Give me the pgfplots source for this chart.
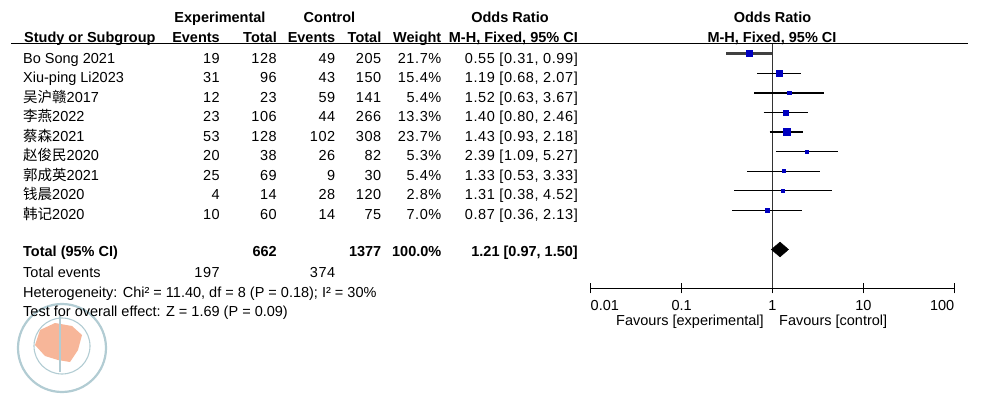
\documentclass[border=0pt]{standalone}
\usepackage{pgfplots}
\pgfplotsset{compat=1.18}
\usepackage{fontspec}
\setmainfont{Liberation Sans}
\newfontfamily\cjk{Noto Sans CJK SC}
\newfontfamily\numf[LetterSpace=4]{Liberation Sans}
\definecolor{mblue}{RGB}{0,0,192}
\definecolor{logoline}{RGB}{178,204,211}
\definecolor{logofill}{RGB}{247,182,153}
\newcommand{\fs}{\fontsize{14.5}{17}\selectfont}
\newcommand{\trow}[8]{%
  \node[anchor=base west] at (23,#1) {#2};
  \node[anchor=base east] at (220,#1) {\numf #3};
  \node[anchor=base east] at (277,#1) {\numf #4};
  \node[anchor=base east] at (335.5,#1) {\numf #5};
  \node[anchor=base east] at (381.5,#1) {\numf #6};
  \node[anchor=base east] at (441.5,#1) {\numf #7};
  \node[anchor=base east] at (578,#1) {\numf #8};
}
\newcommand{\study}[7]{% y, or, lo, hi, half side, line width, line colour
  \addplot[line width=#6, color=#7, mark=none] coordinates {(#3,#1) (#4,#1)};
  \addplot[only marks, mark=square*, mark size=#5, color=mblue] coordinates {(#2,#1)};
}
\begin{document}
\begin{tikzpicture}[every node/.style={font=\fs, inner sep=0pt}]
% watermark logo (decoration)
\begin{scope}[x=1pt,y=-1pt]
  \fill[logofill] (40,330) -- (55,323) -- (72,326) -- (82,335) -- (78,350) -- (70,362) -- (58,360) -- (45,356) -- (35,345) -- cycle;
  \draw[logoline, line width=2.2pt] (62,348) circle (44);
  \draw[logoline, line width=1.1pt] (62,346) circle (28);
  \draw[logoline, line width=1.1pt] (60,316) -- (60,372);
\end{scope}

\begin{axis}[at={(590.7pt,-44pt)}, anchor=north west, scale only axis,
  width=363.6pt, height=244.3pt,
  xmode=log, xmin=0.01, xmax=100, ymin=-0.98, ymax=11.485,
  axis y line=none, axis x line*=bottom, clip=false,
  xtick={0.01,0.1,1,10,100},
  xticklabels={\rlap{0.01},0.1,1,10,\llap{100}},
  xminorticks=false, tick align=center, major tick length=10pt,
  tick style={black, line width=1pt},
  axis line style={black, line width=1pt},
  xticklabel style={font=\fs, inner sep=0pt, anchor=base, yshift=-17.4pt},
]
% line of no effect
\addplot[black!80, line width=1pt, mark=none] coordinates {(1,11.485) (1,-0.98)};
% studies: y, OR, lower, upper, half side of box, CI line width, colour
\study{11}{0.55}{0.31}{0.99}{3.0pt}{2.2pt}{black!75}
\study{10}{1.19}{0.68}{2.07}{3.0pt}{0.9pt}{black}
\study{9}{1.52}{0.63}{3.67}{1.7pt}{2.0pt}{black}
\study{8}{1.40}{0.80}{2.46}{2.6pt}{0.9pt}{black}
\study{7}{1.43}{0.93}{2.18}{3.7pt}{2.0pt}{black}
\study{6}{2.39}{1.09}{5.27}{1.6pt}{0.9pt}{black}
\study{5}{1.33}{0.53}{3.33}{1.6pt}{0.9pt}{black}
\study{4}{1.31}{0.38}{4.52}{1.5pt}{0.9pt}{black}
\study{3}{0.87}{0.36}{2.13}{1.7pt}{0.9pt}{black}
% pooled estimate
\addplot[fill=black, draw=black, mark=none] coordinates {(0.97,1) (1.21,1.38) (1.50,1) (1.21,0.62)} -- cycle;
\end{axis}

\begin{scope}[x=1pt,y=-1pt]
  \draw[black, line width=1pt] (11,44) -- (968,44);
  % headers
  \node[anchor=base, font=\fs\bfseries] at (220,22.7) {Experimental};
  \node[anchor=base, font=\fs\bfseries] at (329.5,22.7) {Control};
  \node[anchor=base, font=\fs\bfseries] at (510,22.7) {Odds Ratio};
  \node[anchor=base, font=\fs\bfseries] at (772.5,22.7) {Odds Ratio};
  \node[anchor=base west, font=\fs\bfseries] at (24,42.7) {Study or Subgroup};
  \node[anchor=base east, font=\fs\bfseries] at (220,42.7) {Events};
  \node[anchor=base east, font=\fs\bfseries] at (277,42.7) {Total};
  \node[anchor=base east, font=\fs\bfseries] at (335.5,42.7) {Events};
  \node[anchor=base east, font=\fs\bfseries] at (381.5,42.7) {Total};
  \node[anchor=base east, font=\fs\bfseries] at (441.5,42.7) {Weight};
  \node[anchor=base east, font=\fs\bfseries] at (578,42.7) {M-H, Fixed, 95\% CI};
  \node[anchor=base, font=\fs\bfseries] at (772,42.7) {M-H, Fixed, 95\% CI};
  % rows
  \trow{63.3}{Bo Song 2021}{19}{128}{49}{205}{21.7\%}{0.55 [0.31, 0.99]}
  \trow{82.8}{Xiu-ping Li2023}{31}{96}{43}{150}{15.4\%}{1.19 [0.68, 2.07]}
  \trow{102.3}{{\cjk 吴沪赣}2017}{12}{23}{59}{141}{5.4\%}{1.52 [0.63, 3.67]}
  \trow{121.8}{{\cjk 李燕}2022}{23}{106}{44}{266}{13.3\%}{1.40 [0.80, 2.46]}
  \trow{141.3}{{\cjk 蔡森}2021}{53}{128}{102}{308}{23.7\%}{1.43 [0.93, 2.18]}
  \trow{160.8}{{\cjk 赵俊民}2020}{20}{38}{26}{82}{5.3\%}{2.39 [1.09, 5.27]}
  \trow{180.3}{{\cjk 郭成英}2021}{25}{69}{9}{30}{5.4\%}{1.33 [0.53, 3.33]}
  \trow{199.8}{{\cjk 钱晨}2020}{4}{14}{28}{120}{2.8\%}{1.31 [0.38, 4.52]}
  \trow{219.3}{{\cjk 韩记}2020}{10}{60}{14}{75}{7.0\%}{0.87 [0.36, 2.13]}
  % totals
  \node[anchor=base west, font=\fs\bfseries] at (23,256.7) {Total (95\% CI)};
  \node[anchor=base east, font=\fs\bfseries] at (277,256.7) {662};
  \node[anchor=base east, font=\fs\bfseries] at (381.5,256.7) {1377};
  \node[anchor=base east, font=\fs\bfseries] at (441.5,256.7) {100.0\%};
  \node[anchor=base east, font=\fs\bfseries] at (578,256.7) {1.21 [0.97, 1.50]};
  \node[anchor=base west] at (23,277.3) {Total events};
  \node[anchor=base east] at (220,277.3) {\numf 197};
  \node[anchor=base east] at (335.5,277.3) {\numf 374};
  \node[anchor=base west] at (23,297.3) {Heterogeneity: Chi² = 11.40, df = 8 (P = 0.18); I² = 30\%};
  \node[anchor=base west] at (23,316.7) {Test for overall effect: Z = 1.69 (P = 0.09)};
  % favours
  \node[anchor=base west] at (616,325.3) {Favours [experimental]};
  \node[anchor=base west] at (779,325.3) {Favours [control]};
\end{scope}
\pgfresetboundingbox
\path[use as bounding box] (0pt,0pt) rectangle (985pt,-406pt);
\end{tikzpicture}
\end{document}
